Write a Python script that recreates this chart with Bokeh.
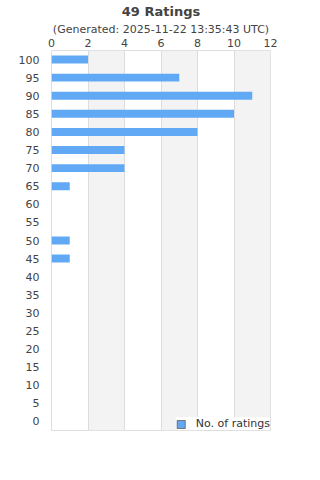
from bokeh.plotting import figure
from bokeh.models import Range1d, FixedTicker, Title, Legend, LegendItem, ColumnDataSource
from bokeh.embed import file_html
from bokeh.resources import INLINE

ratings = [100, 95, 90, 85, 80, 75, 70, 65, 60, 55, 50, 45, 40, 35, 30, 25, 20, 15, 10, 5, 0]
counts = [2, 7, 11, 10, 8, 4, 4, 1, 0, 0, 1, 1, 0, 0, 0, 0, 0, 0, 0, 0, 0]
x_ticks = [0, 2, 4, 6, 8, 10, 12]
title_text = "49 Ratings"
subtitle_text = "(Generated: 2025-11-22 13:35:43 UTC)"
series_name = "No. of ratings"

FONT = "DejaVu Sans"
BAR = "#62a9f5"

p = figure(width=320, height=480, output_backend="svg", toolbar_location=None,
           x_range=Range1d(0, 12), y_range=Range1d(-2.5, 102.5),
           x_axis_location="above", min_border_left=51, min_border_right=50,
           min_border_top=50, min_border_bottom=50)
p.title.visible = False
src = ColumnDataSource(dict(y=ratings, right=counts))
r = p.hbar(y="y", right="right", left=0, height=2.2, source=src, color=BAR, line_color=None)
# legend swatch only (no visible mark in the plot)
leg_src = ColumnDataSource(dict(y=[float("nan")], right=[float("nan")]))
leg_r = p.hbar(y="y", right="right", left=0, height=1, source=leg_src,
               fill_color=BAR, line_color="#777777", line_width=1.2)

p.xaxis.ticker = FixedTicker(ticks=x_ticks)
p.yaxis.ticker = FixedTicker(ticks=ratings)
for ax in (p.xaxis[0], p.yaxis[0]):
    ax.axis_line_color = None
    ax.major_tick_line_color = None
    ax.minor_tick_line_color = None
    ax.major_tick_out = 0
    ax.major_tick_in = 0
    ax.minor_tick_out = 0
    ax.major_label_text_font = FONT
    ax.major_label_text_font_size = "11px"
    ax.major_label_text_color = "#444444"
p.xaxis.major_label_standoff = 4
p.yaxis.major_label_standoff = 12

p.ygrid.grid_line_color = None
p.xgrid.ticker = FixedTicker(ticks=x_ticks)
p.xgrid.grid_line_color = "#dddddd"
p.xgrid.band_fill_color = "#f3f3f3"
p.xgrid.band_fill_alpha = 1
p.outline_line_color = "#dddddd"
p.background_fill_color = "white"
p.border_fill_color = "white"

p.add_layout(Title(text=subtitle_text, align="center", text_font=FONT, text_font_size="11px",
                   text_font_style="normal", text_color="#444444", standoff=0), "above")
p.add_layout(Title(text=title_text, align="center", text_font=FONT, text_font_size="13px",
                   text_font_style="bold", text_color="#444444", standoff=3), "above")

legend = Legend(items=[LegendItem(label=series_name, renderers=[leg_r])], location="bottom_right",
                label_text_font=FONT, label_text_font_size="11px", label_text_color="#333333",
                border_line_color=None, background_fill_color="white", background_fill_alpha=1,
                glyph_width=10, glyph_height=10, margin=0, padding=5, label_standoff=10,
                label_height=12)
p.add_layout(legend)

open("out.html", "w").write(file_html(p, INLINE))
